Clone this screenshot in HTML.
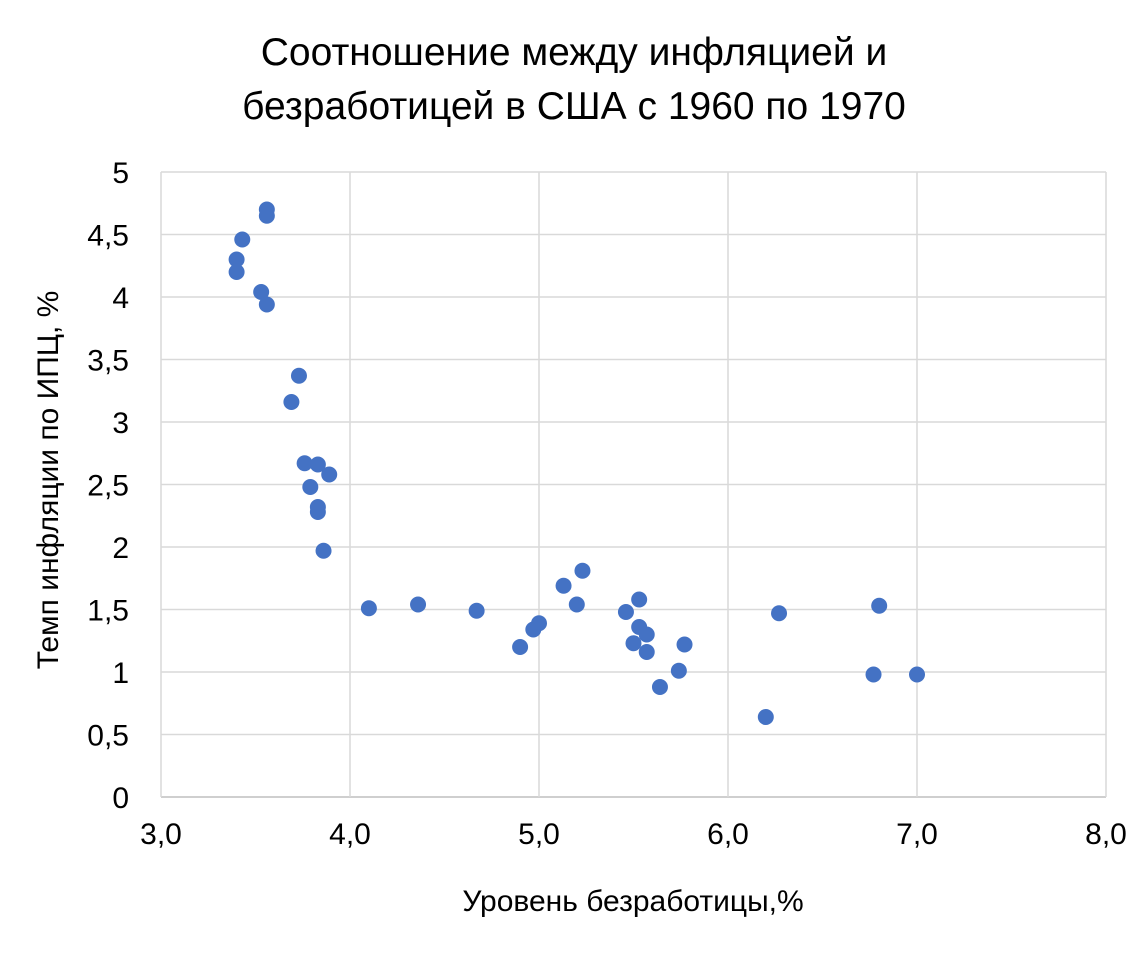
<!DOCTYPE html>
<html><head><meta charset="utf-8"><style>
body{margin:0;background:#fff;font-family:"Liberation Sans",sans-serif;}
</style></head><body>
<svg width="1148" height="948" xmlns="http://www.w3.org/2000/svg" font-family="Liberation Sans, sans-serif">
<rect width="1148" height="948" fill="#fff"/>
<text x="574" y="65" text-anchor="middle" font-size="39" fill="#000">Соотношение между инфляцией и</text>
<text x="574" y="119" text-anchor="middle" font-size="39" fill="#000">безработицей в США с 1960 по 1970</text>
<g id="grid"></g><g id="ticks"></g><g id="pts"></g>
<text x="633" y="911" text-anchor="middle" font-size="30" fill="#000">Уровень безработицы,%</text>
<text transform="translate(58,480) rotate(-90)" text-anchor="middle" font-size="30" fill="#000">Темп инфляции по ИПЦ, %</text>
</svg>
<script>
const xTicks=[3,4,5,6,7,8];
const xTickLabels=["3,0","4,0","5,0","6,0","7,0","8,0"];
const yTicks=[0,0.5,1,1.5,2,2.5,3,3.5,4,4.5,5];
const yTickLabels=["0","0,5","1","1,5","2","2,5","3","3,5","4","4,5","5"];
const unemployment=[3.40,3.40,3.43,3.56,3.56,3.53,3.56,3.73,3.69,3.76,3.83,3.89,3.79,3.83,3.83,3.86,4.10,4.36,4.67,4.90,4.97,5.00,5.13,5.23,5.20,5.46,5.53,5.53,5.57,5.50,5.57,5.77,5.64,5.74,6.20,6.27,6.80,6.77,7.00];
const inflation=[4.30,4.20,4.46,4.70,4.65,4.04,3.94,3.37,3.16,2.67,2.66,2.58,2.48,2.32,2.28,1.97,1.51,1.54,1.49,1.20,1.34,1.39,1.69,1.81,1.54,1.48,1.58,1.36,1.30,1.23,1.16,1.22,0.88,1.01,0.64,1.47,1.53,0.98,0.98];
const X0=161,X1=1106,Y0=797,Y1=172;
const sx=v=>X0+(v-3)/5*(X1-X0);
const sy=v=>Y0-(v/5)*(Y0-Y1);
const NS="http://www.w3.org/2000/svg";
const grid=document.getElementById('grid'),ticks=document.getElementById('ticks'),pts=document.getElementById('pts');
function mk(tag,attrs,parent){const e=document.createElementNS(NS,tag);for(const k in attrs)e.setAttribute(k,attrs[k]);parent.appendChild(e);return e;}
yTicks.forEach((t,i)=>{
 const l=mk('line',{x1:X0,x2:X1,y1:sy(t),y2:sy(t),stroke:t===0?'#bfbfbf':'#d9d9d9','stroke-width':1.5},grid);
 
 
 const tx=mk('text',{x:129,y:sy(t)+11,'text-anchor':'end','font-size':30,fill:'#000'},ticks);
 tx.textContent=yTickLabels[i];
 
 
});
xTicks.forEach((t,i)=>{
 const l=mk('line',{x1:sx(t),x2:sx(t),y1:Y1,y2:Y0,stroke:'#d9d9d9','stroke-width':1.5},grid);
 
 
 const tx=mk('text',{x:sx(t),y:844,'text-anchor':'middle','font-size':30,fill:'#000'},ticks);
 tx.textContent=xTickLabels[i];
 
 
});
unemployment.forEach((u,i)=>{
 const c=mk('circle',{cx:sx(u),cy:sy(inflation[i]),r:8,fill:'#4472c4'},pts);
 
 
});
</script>
</body></html>
